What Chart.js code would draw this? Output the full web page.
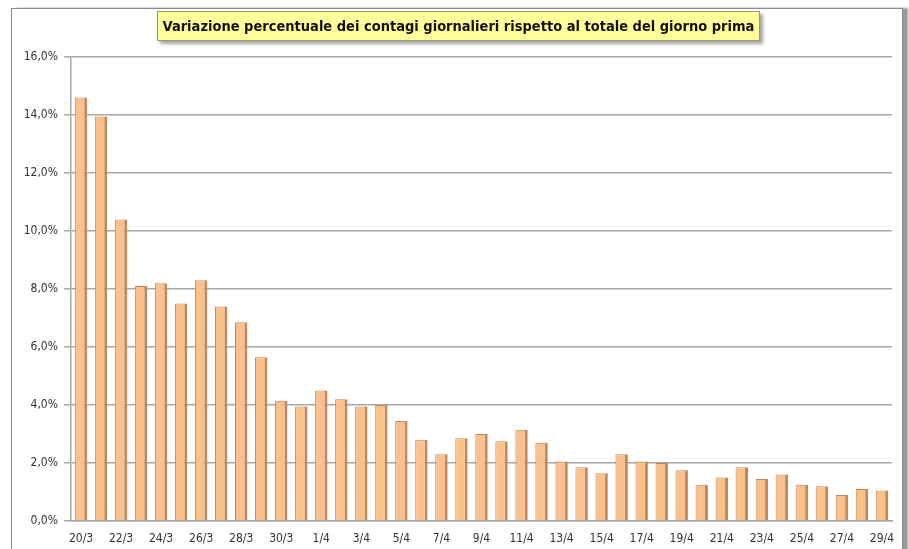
<!DOCTYPE html>
<html>
<head>
<meta charset="utf-8">
<script src="https://cdn.jsdelivr.net/npm/chart.js@4.4.1/dist/chart.umd.min.js"></script>
<style>
  html, body { margin: 0; padding: 0; background: #ffffff; }
  #wrap { position: relative; width: 909px; height: 549px; overflow: hidden; background: #fff; }
  #frame {
    position: absolute; left: 11px; top: 8px; width: 890px; height: 560px;
    border: 1px solid #8c8c8c; box-shadow: 5px 0 2px #9a9a9a;
    background: #ffffff;
  }
  #title {
    position: absolute; left: 157px; top: 11px; width: 601px; height: 28px;
    background: #ffff99; border: 1px solid #9a9a70;
    box-shadow: 3px 3px 3px rgba(0,0,0,0.35);
    font: bold 14.5px "Liberation Sans Narrow", "DejaVu Sans Condensed", sans-serif;
    color: #111; text-align: center; line-height: 28px; white-space: nowrap;
  }
  canvas { position: absolute; left: 0; top: 0; }
</style>
</head>
<body>
<div id="wrap">
  <div id="frame"></div>
  <canvas id="c" width="909" height="549"></canvas>
  <div id="title">Variazione percentuale dei contagi giornalieri rispetto al totale del giorno prima</div>
</div>
<script>
// Days 20/3 .. 29/4
const giorni = [
  '20/3','21/3','22/3','23/3','24/3','25/3','26/3','27/3','28/3','29/3','30/3','31/3',
  '1/4','2/4','3/4','4/4','5/4','6/4','7/4','8/4','9/4','10/4','11/4','12/4','13/4',
  '14/4','15/4','16/4','17/4','18/4','19/4','20/4','21/4','22/4','23/4','24/4','25/4',
  '26/4','27/4','28/4','29/4'
];
// percent growth vs previous day total
const variazione = [
  14.6, 13.95, 10.4, 8.1, 8.2, 7.5, 8.3, 7.4, 6.85, 5.65, 4.15, 3.95,
  4.5, 4.2, 3.95, 4.0, 3.45, 2.8, 2.3, 2.85, 3.0, 2.75, 3.15, 2.7, 2.05,
  1.85, 1.65, 2.3, 2.05, 2.0, 1.75, 1.25, 1.5, 1.85, 1.45, 1.6, 1.25,
  1.2, 0.9, 1.1, 1.05
];
const yTicks = [0, 2, 4, 6, 8, 10, 12, 14, 16];

const FONT = '"Liberation Sans Narrow", "DejaVu Sans Condensed", sans-serif';
const grigio = '#a8a8a8';

new Chart(document.getElementById('c'), {
  type: 'bar',
  data: {
    labels: giorni,
    datasets: [{
      data: variazione,
      backgroundColor: '#fbc08c',
      borderColor: '#c4895a',
      borderWidth: { right: 3, left: 1, top: 1, bottom: 0 },
      borderSkipped: false,
      categoryPercentage: 1,
      barPercentage: 0.62,
    }],
  },
  options: {
    responsive: false,
    animation: false,
    layout: { padding: { left: 0, top: 57, right: 17, bottom: 0 } },
    plugins: { legend: { display: false }, tooltip: { enabled: false } },
    scales: {
      x: {
        afterFit: s => { s.height = 28; },
        grid: { display: false, drawTicks: false },
        border: { color: grigio, width: 1.5 },
        ticks: {
          autoSkip: false, maxRotation: 0, padding: 11,
          color: '#333', font: { family: FONT, size: 12 },
          callback: (v, i) => (i % 2 === 0 ? giorni[i] : ''),
        },
      },
      y: {
        min: 0, max: 16,
        afterFit: s => { s.width = 71; },
        afterBuildTicks: s => { s.ticks = yTicks.map(v => ({ value: v })); },
        grid: { color: grigio, lineWidth: 1.5, tickLength: 7, tickColor: grigio },
        border: { color: grigio, width: 1.5 },
        ticks: {
          padding: 6, color: '#333', font: { family: FONT, size: 12 },
          callback: v => v.toFixed(1).replace('.', ',') + '%',
        },
      },
    },
  },
});
</script>
</body>
</html>
